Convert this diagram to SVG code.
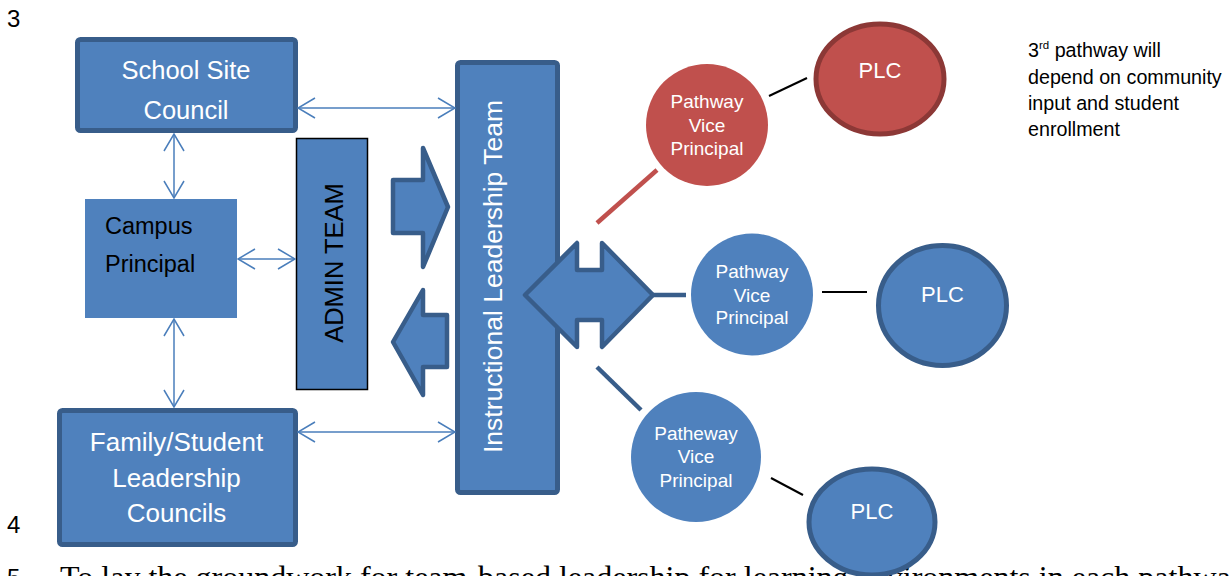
<svg xmlns="http://www.w3.org/2000/svg" width="1229" height="576" viewBox="0 0 1229 576">
<style>
.box{fill:#4F81BD;stroke:#385D8A;stroke-width:5}
.wt{fill:#FFFFFF;font-family:"Liberation Sans",Arial,sans-serif;text-anchor:middle}
.bt{fill:#000000;font-family:"Liberation Sans",Arial,sans-serif}
.conn{fill:none;stroke:#4A7EBB;stroke-width:1.5;marker-start:url(#arr);marker-end:url(#arr)}
.blk{fill:#4F81BD;stroke:#385D8A;stroke-width:4.5;stroke-linejoin:round}
.vp{fill:#4F81BD}
.vpr{fill:#C0504D}
.plc{fill:#4F81BD;stroke:#385D8A;stroke-width:5}
.plcr{fill:#C0504D;stroke:#8C3836;stroke-width:5}
.tie{stroke:#000000;stroke-width:2}
</style>
<defs>
<marker id="arr" viewBox="0 0 20 24" refX="19" refY="12" markerWidth="20" markerHeight="24" markerUnits="userSpaceOnUse" orient="auto-start-reverse">
<path d="M2,2 L19,12 L2,22" fill="none" stroke="#4A7EBB" stroke-width="1.5"/>
</marker>
</defs>
<rect width="1229" height="576" fill="#FFFFFF"/>
<g id="page-text">
<text class="bt" x="7" y="27" font-size="24">3</text>
<text class="bt" x="7" y="533" font-size="24">4</text>
<text class="bt" x="7" y="586" font-size="24">5</text>
<text x="60" y="588" font-size="32" font-family="'Liberation Serif','Times New Roman',serif" fill="#000000">To lay the groundwork for team-based leadership for learning environments in each pathway</text>
</g>
<g id="school-site-council">
<rect class="box" x="77.5" y="39.5" width="218" height="91" rx="3"/>
<text class="wt" x="186" y="79" font-size="25.5">School Site</text>
<text class="wt" x="186" y="119" font-size="25.5">Council</text>
</g>
<g id="campus-principal">
<rect x="85" y="199" width="152" height="119" fill="#4F81BD"/>
<text class="bt" x="105" y="234" font-size="23.5">Campus</text>
<text class="bt" x="105" y="272" font-size="23.5">Principal</text>
</g>
<g id="family-student-councils">
<rect class="box" x="59.5" y="410.5" width="236" height="134" rx="3"/>
<text class="wt" x="176.5" y="451" font-size="26">Family/Student</text>
<text class="wt" x="176.5" y="487" font-size="26">Leadership</text>
<text class="wt" x="176.5" y="522" font-size="26">Councils</text>
</g>
<g id="admin-team">
<rect x="296.5" y="138.5" width="71" height="251" fill="#4F81BD" stroke="#000000" stroke-width="1.5"/>
<text class="bt" transform="translate(343,263) rotate(-90)" text-anchor="middle" font-size="25.5">ADMIN TEAM</text>
</g>
<g id="admin-arrows">
<polygon class="blk" points="393,180 423,180 423,148 448,207 423,267 423,233 393,233"/>
<polygon class="blk" points="447,315 423,315 423,290 393,342 423,395 423,367 447,367"/>
</g>
<g id="instructional-leadership-team">
<rect class="box" x="457.5" y="62.5" width="100" height="430" rx="3"/>
<text class="wt" transform="translate(502,276.5) rotate(-90)" font-size="26.5">Instructional Leadership Team</text>
</g>
<g id="connectors">
<path class="conn" d="M298,108 H455"/>
<path class="conn" d="M174,134 V198"/>
<path class="conn" d="M238,259 H295"/>
<path class="conn" d="M174,319 V407"/>
<path class="conn" d="M298,432 H455"/>
<line x1="597" y1="223" x2="657" y2="170" stroke="#C0504D" stroke-width="4.5"/>
<line x1="653" y1="295" x2="686" y2="295" stroke="#385D8A" stroke-width="4.5"/>
<line x1="597" y1="367" x2="641" y2="410" stroke="#385D8A" stroke-width="4.5"/>
<line class="tie" x1="769" y1="96" x2="807" y2="78"/>
<line class="tie" x1="822" y1="292" x2="867" y2="292"/>
<line class="tie" x1="771" y1="478" x2="803" y2="495"/>
</g>
<g id="ilt-pathway-arrow">
<polygon class="blk" points="525,295 577,243 577,270 602,270 602,243 653,295 602,347 602,320 577,320 577,347"/>
</g>
<g id="pathway-vp-red">
<circle class="vpr" cx="707" cy="125" r="61"/>
<text class="wt" x="707" y="108" font-size="19">Pathway</text>
<text class="wt" x="707" y="132" font-size="19">Vice</text>
<text class="wt" x="707" y="155" font-size="19">Principal</text>
</g>
<g id="plc-red">
<ellipse class="plcr" cx="880" cy="79" rx="64" ry="55"/>
<text class="wt" x="880" y="78" font-size="22">PLC</text>
</g>
<g id="pathway-vp-blue">
<circle class="vp" cx="752" cy="294.5" r="61"/>
<text class="wt" x="752" y="278" font-size="19">Pathway</text>
<text class="wt" x="752" y="302" font-size="19">Vice</text>
<text class="wt" x="752" y="324" font-size="19">Principal</text>
</g>
<g id="plc-blue">
<ellipse class="plc" cx="942.5" cy="305.5" rx="64" ry="60"/>
<text class="wt" x="942.5" y="302" font-size="22">PLC</text>
</g>
<g id="patheway-vp">
<circle class="vp" cx="696" cy="457" r="65"/>
<text class="wt" x="696" y="440" font-size="19">Patheway</text>
<text class="wt" x="696" y="463" font-size="19">Vice</text>
<text class="wt" x="696" y="487" font-size="19">Principal</text>
</g>
<g id="plc-bottom">
<ellipse class="plc" cx="872" cy="522" rx="63" ry="53"/>
<text class="wt" x="872" y="519" font-size="22">PLC</text>
</g>
<g id="note">
<text class="bt" x="1028" y="57" font-size="19.7"><tspan>3</tspan><tspan font-size="11.5" dy="-8">rd</tspan><tspan dy="8"> pathway will</tspan></text>
<text class="bt" x="1028" y="84" font-size="19.7">depend on community</text>
<text class="bt" x="1028" y="110" font-size="19.7">input and student</text>
<text class="bt" x="1028" y="136" font-size="19.7">enrollment</text>
</g>
</svg>
